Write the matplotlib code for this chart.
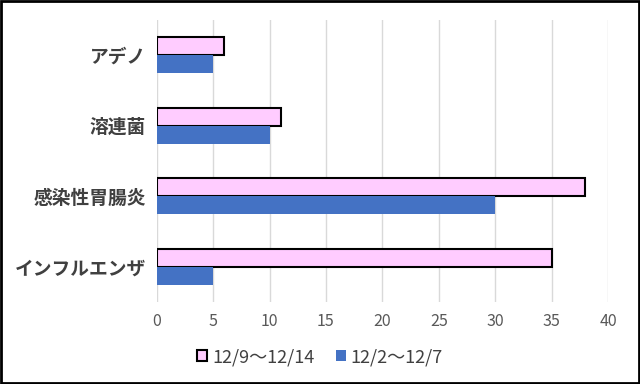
import numpy as np
import matplotlib
matplotlib.use("Agg")
import matplotlib.pyplot as plt
from matplotlib.patches import Rectangle

plt.rcParams['font.family'] = ['Noto Sans CJK JP', 'DejaVu Sans']

categories = ["アデノ", "溶連菌", "感染性胃腸炎", "インフルエンザ"]
week2 = [6, 11, 38, 35]   # 12/9〜12/14
week1 = [5, 10, 30, 5]    # 12/2〜12/7
labels = ["12/9〜12/14", "12/2〜12/7"]

fig = plt.figure(figsize=(6.4, 3.84), dpi=100)
ax = fig.add_axes([0.245, 0.2135, 0.705, 0.7345])

y = np.arange(len(categories))
h = 0.255
ax.barh(y - h / 2, week2, height=h, color="#FFCCFF", edgecolor="black", linewidth=1.5, label=labels[0], zorder=3)
ax.barh(y + h / 2, week1, height=h, color="#4472C4", label=labels[1], zorder=3)

ax.set_ylim(3.5, -0.5)
ax.set_xlim(0, 40)
ax.set_xticks(np.arange(0, 41, 5))
ax.set_yticks(y)
ax.set_yticklabels(categories, fontsize=13.5, color="#404040", fontweight="bold")
ax.tick_params(axis="x", colors="#595959", labelsize=11.5, length=0, pad=8)
ax.tick_params(axis="y", length=0, pad=8)
ax.grid(axis="x", color="#D9D9D9", linewidth=1, zorder=0)
for s in ax.spines.values():
    s.set_visible(False)

fig.legend(loc="center", bbox_to_anchor=(0.5, 0.07), ncol=2, frameon=False,
           fontsize=13, handlelength=0.55, handleheight=0.55, handletextpad=0.25,
           columnspacing=1.2, labelcolor="#404040")

fig.add_artist(Rectangle((0.002, 0.003), 0.996, 0.994, transform=fig.transFigure,
                         fill=False, edgecolor="black", linewidth=2))

fig.savefig("out.png", dpi=100)
